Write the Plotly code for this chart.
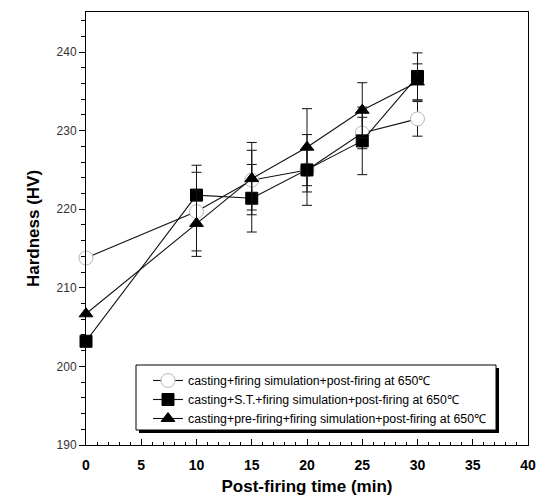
import plotly.graph_objects as go

time_min = [0, 10, 15, 20, 25, 30]

labels = [
    "casting+firing simulation+post-firing at 650℃",
    "casting+S.T.+firing simulation+post-firing at 650℃",
    "casting+pre-firing+firing simulation+post-firing at 650℃",
]

hv_circle = [213.8, 219.7, 223.7, 225.0, 229.7, 231.5]
err_circle = [0, 5.0, 3.8, 2.8, 2.0, 2.2]

hv_square = [203.2, 221.8, 221.4, 225.0, 228.7, 236.9]
err_square = [0, 3.8, 4.3, 4.5, 4.3, 3.0]

hv_triangle = [206.7, 218.2, 223.9, 227.9, 232.6, 236.2]
err_triangle = [0, 4.2, 4.6, 4.9, 3.5, 2.3]

FONT = "Arial, Liberation Sans, sans-serif"

W, H = 538, 497
ML, MR, MT, MB = 86, 10, 12, 52
PW, PH = W - ML - MR, H - MT - MB

def px(x):
    return (x - ML) / PW

def py(y):
    return (H - MB - y) / PH

fig = go.Figure()

def add(y, err, name, symbol, size, fill, edge):
    fig.add_trace(go.Scatter(
        x=time_min, y=y, name=name, mode="lines+markers",
        line=dict(color="#111", width=1.1),
        marker=dict(symbol=symbol, size=size, color=fill,
                    line=dict(color=edge, width=1)),
        error_y=dict(type="data", array=err, visible=True,
                     color="#111", thickness=1, width=5),
        cliponaxis=False,
    ))

add(hv_circle, err_circle, labels[0], "circle", 14, "white", "#b8b8b8")
add(hv_square, err_square, labels[1], "square", 12, "black", "black")
add(hv_triangle, err_triangle, labels[2], "triangle-up", 12, "black", "black")

# legend frame with drop shadow
lx0, lx1, ly0, ly1 = 136, 496, 365, 430
fig.add_shape(type="rect", xref="paper", yref="paper",
              x0=px(lx0 + 3), x1=px(lx1 + 3), y0=py(ly0 + 3), y1=py(ly1 + 3),
              fillcolor="black", line=dict(width=0), layer="above")
fig.add_shape(type="rect", xref="paper", yref="paper",
              x0=px(lx0), x1=px(lx1), y0=py(ly0), y1=py(ly1),
              fillcolor="white", line=dict(color="black", width=1), layer="above")

fig.update_layout(
    width=W, height=H,
    margin=dict(l=ML, r=MR, t=MT, b=MB),
    paper_bgcolor="white", plot_bgcolor="white",
    font=dict(family=FONT, color="black"),
    showlegend=True,
    legend=dict(
        x=px(lx0 + 12), y=py(ly0 + 1), xanchor="left", yanchor="top",
        borderwidth=0, bgcolor="rgba(0,0,0,0)",
        font=dict(size=12.3, family=FONT), tracegroupgap=0,
        itemsizing="trace",
    ),
)

fig.update_xaxes(
    range=[0, 40], dtick=5, tick0=0, automargin=False,
    showgrid=False, zeroline=False,
    showline=True, linecolor="black", linewidth=1, mirror=True,
    ticks="inside", ticklen=6, tickcolor="black",
    minor=dict(dtick=1, ticks="inside", ticklen=3, tickcolor="black", showgrid=False),
    tickfont=dict(size=14, family=FONT, weight="bold"),
    ticklabelstandoff=7,
    title=dict(text="Post-firing time (min)", font=dict(size=17, family=FONT, weight="bold"), standoff=8),
)
fig.update_yaxes(
    range=[190, 245.1], dtick=10, tick0=190, automargin=False,
    showgrid=False, zeroline=False,
    showline=True, linecolor="black", linewidth=1, mirror=True,
    ticks="outside", ticklen=6, tickcolor="black",
    minor=dict(dtick=2, ticks="outside", ticklen=4, tickcolor="black", showgrid=False),
    tickfont=dict(size=12, family=FONT, color="#333"),
    title=dict(text="Hardness (HV)", font=dict(size=17, family=FONT, weight="bold"), standoff=12),
)

fig.write_html("out.html")
